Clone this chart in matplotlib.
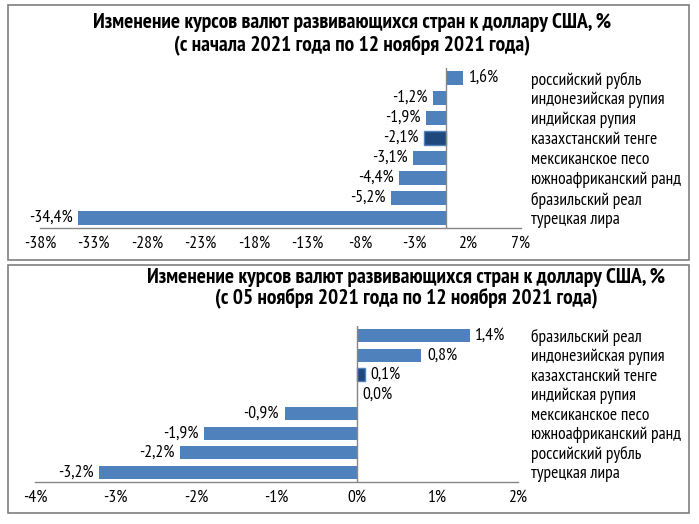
import matplotlib
matplotlib.use("Agg")
import matplotlib.pyplot as plt
from matplotlib.patches import Rectangle

plt.rcParams['font.family'] = ['PT Sans Narrow', 'DejaVu Sans']

# ---- data ----
title1 = "Изменение курсов валют развивающихся стран к доллару США, %\n(с начала 2021 года по 12 ноября 2021 года)"
cats1 = ["российский рубль", "индонезийская рупия", "индийская рупия", "казахстанский тенге",
         "мексиканское песо", "южноафриканский ранд", "бразильский реал", "турецкая лира"]
vals1 = [1.6, -1.2, -1.9, -2.1, -3.1, -4.4, -5.2, -34.4]
ticks1 = [-38, -33, -28, -23, -18, -13, -8, -3, 2, 7]

title2 = "Изменение курсов валют развивающихся стран к доллару США, %\n(с 05 ноября 2021 года по 12 ноября 2021 года)"
cats2 = ["бразильский реал", "индонезийская рупия", "казахстанский тенге", "индийская рупия",
         "мексиканское песо", "южноафриканский ранд", "российский рубль", "турецкая лира"]
vals2 = [1.4, 0.8, 0.1, 0.0, -0.9, -1.9, -2.2, -3.2]
ticks2 = [-4, -3, -2, -1, 0, 1, 2]

highlight = "казахстанский тенге"

W, H = 699, 524
fig = plt.figure(figsize=(W / 100, H / 100), dpi=100)

BLUE = '#4F81BD'
DARK = '#1F497D'
GRAY = '#868686'
FS = 12.6
TFS = 15.5


def px_axes(x0, y0, x1, y1):
    return fig.add_axes([x0 / W, 1 - y1 / H, (x1 - x0) / W, (y1 - y0) / H])


def fmt(v):
    return f"{v:.1f}".replace('.', ',') + '%'


def panel(ax, cats, vals, ticks, pad_pt):
    n = len(cats)
    ys = list(range(n))
    colors = [DARK if c == highlight else BLUE for c in cats]
    edges = [BLUE if c == highlight else 'none' for c in cats]
    ax.barh(ys, vals, height=0.68, color=colors, edgecolor=edges, linewidth=1.0, zorder=2)
    ax.set_ylim(n - 0.5, -0.5)
    ax.set_xlim(ticks[0], ticks[-1])
    ax.set_xticks(ticks)
    ax.set_xticklabels([f"{t}%" for t in ticks])
    ax.set_yticks(ys)
    ax.set_yticklabels(cats)
    ax.yaxis.tick_right()
    ax.tick_params(axis='y', length=0, pad=pad_pt, labelsize=FS)
    ax.tick_params(axis='x', length=0, pad=5.5, labelsize=FS)
    for s in ['top', 'right', 'left']:
        ax.spines[s].set_visible(False)
    ax.spines['bottom'].set_color(GRAY)
    ax.spines['bottom'].set_linewidth(1.0)
    ax.axvline(0, color=GRAY, lw=1.0, zorder=3)
    for y, v in zip(ys, vals):
        if v < 0:
            ax.annotate(fmt(v), (v, y), xytext=(-4, 0), textcoords='offset points',
                        ha='right', va='center', fontsize=FS)
        else:
            ax.annotate(fmt(v), (v, y), xytext=(4, 0), textcoords='offset points',
                        ha='left', va='center', fontsize=FS)
    ax.set_facecolor('none')


# panel borders
fig.patches.append(Rectangle((8 / W, 1 - 260 / H), (689 - 8) / W, (260 - 5) / H,
                             transform=fig.transFigure, fill=False, edgecolor='#7F7F7F', lw=1.2))
fig.patches.append(Rectangle((8 / W, 1 - 513 / H), (689 - 8) / W, (513 - 265) / H,
                             transform=fig.transFigure, fill=False, edgecolor='#7F7F7F', lw=1.2))

ax1 = px_axes(40, 68, 521, 228)
panel(ax1, cats1, vals1, ticks1, 7.5)
fig.text(352 / W, 1 - 34 / H, title1, ha='center', va='center', fontsize=TFS, fontweight='bold',
         linespacing=1.15)

ax2 = px_axes(35, 326, 518, 482)
panel(ax2, cats2, vals2, ticks2, 9.5)
fig.text(406 / W, 1 - 288 / H, title2, ha='center', va='center', fontsize=TFS, fontweight='bold',
         linespacing=1.0)

fig.savefig("out.png", dpi=100)
